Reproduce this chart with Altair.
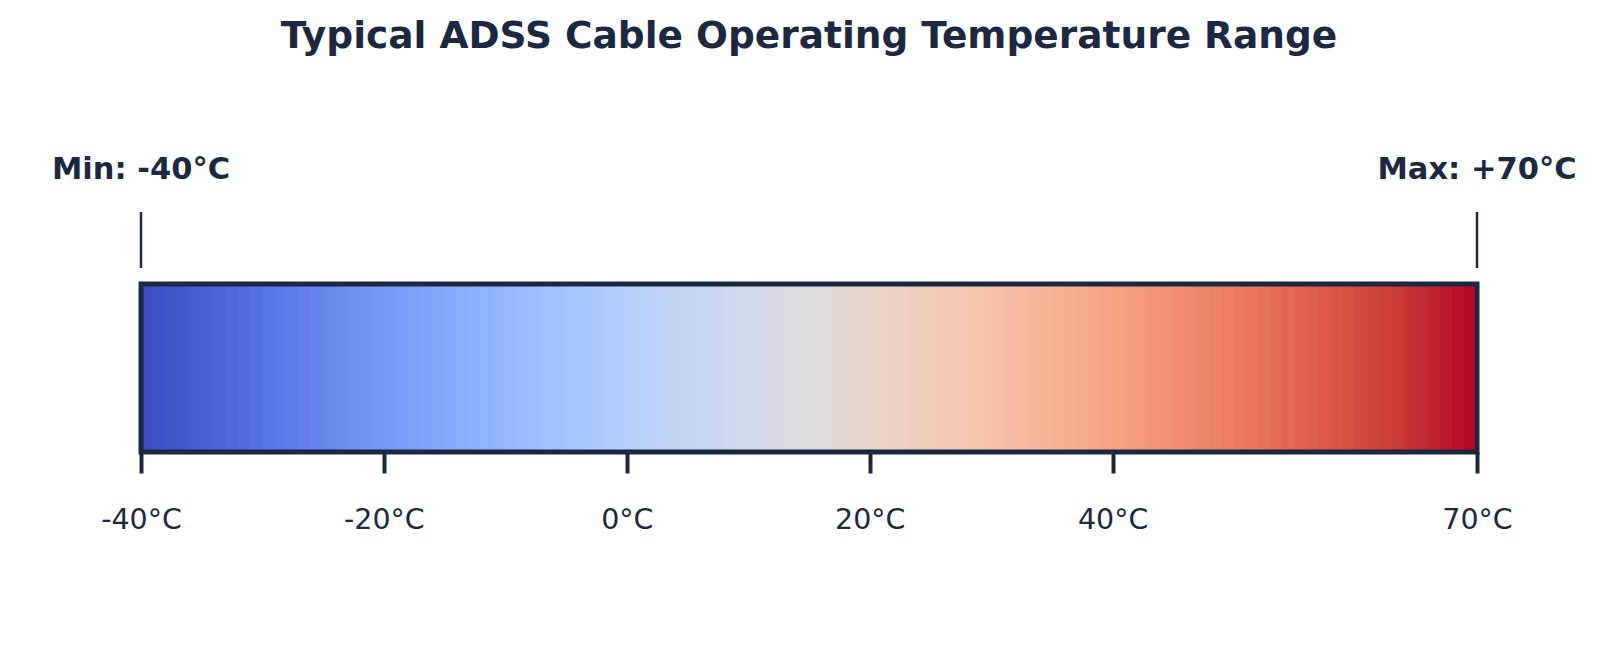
import altair as alt
import pandas as pd

# --- data ---
cell_starts = list(range(-40, 70))          # 1 °C cells across the operating range
tick_values = [-40, -20, 0, 20, 40, 70]
limits_temp = [-40, 70]
limits_text = ["Min: -40°C", "Max: +70°C"]
title_text = "Typical ADSS Cable Operating Temperature Range"

# coolwarm colour stops
stop_temps = [-40, -33.125, -26.25, -19.375, -12.5, -5.625, 1.25, 8.125, 15,
              21.875, 28.75, 35.625, 42.5, 49.375, 56.25, 63.125, 70]
stop_colors = ["#3b4cc0", "#4d68d7", "#6282ea", "#779af7", "#8db0fe", "#a3c2ff",
               "#b8d0f9", "#ccd9ee", "#dddddd", "#ecd3c5", "#f5c4ad", "#f7b194",
               "#f49a7b", "#ec7f63", "#de604d", "#cb3e38", "#b40426"]

INK = "#1c2841"
FONT = "DejaVu Sans"
W, H = 1336, 168

cells = pd.DataFrame({"t": cell_starts})
limits = pd.DataFrame({"t": limits_temp, "label": limits_text})
frame = pd.DataFrame({"a": [limits_temp[0]], "b": [limits_temp[1]]})
title_df = pd.DataFrame({"label": [title_text]})

xscale = alt.Scale(domain=[-40, 70], nice=False, zero=False)
xaxis = alt.Axis(values=tick_values, labelExpr="datum.value + '°C'", title=None,
                 grid=False, domain=False, tickSize=21, tickWidth=4, tickColor=INK,
                 labelFontSize=28.5, labelColor=INK, labelFont=FONT, labelPadding=32,
                 labelFlush=False, labelOverlap=False, labelBound=False)
cscale = alt.Scale(domain=stop_temps, range=stop_colors, interpolate="rgb")

grad = alt.Chart(cells).transform_calculate(
    t2="datum.t + 1", mid="datum.t + 0.5"
).mark_rect(strokeWidth=1).encode(
    x=alt.X("t:Q", scale=xscale, axis=xaxis),
    x2="t2:Q",
    y=alt.value(0), y2=alt.value(H),
    color=alt.Color("mid:Q", scale=cscale, legend=None),
    stroke=alt.Color("mid:Q", scale=cscale, legend=None),
)

border = alt.Chart(frame).mark_rect(fillOpacity=0, stroke=INK, strokeWidth=5).encode(
    x=alt.X("a:Q", scale=xscale), x2="b:Q",
    y=alt.value(0), y2=alt.value(H),
)

rules = alt.Chart(limits).mark_rule(color=INK, strokeWidth=2.5).encode(
    x=alt.X("t:Q", scale=xscale), y=alt.value(-72), y2=alt.value(-16),
)

labels = alt.Chart(limits).mark_text(font=FONT, fontSize=30.5, fontWeight="bold",
                                     color=INK, align="center", baseline="alphabetic").encode(
    x=alt.X("t:Q", scale=xscale), y=alt.value(-105), text="label:N",
)

title = alt.Chart(title_df).mark_text(font=FONT, fontSize=37.5, fontWeight="bold",
                                      color=INK, align="center", baseline="alphabetic").encode(
    x=alt.value(W / 2), y=alt.value(-236), text="label:N",
)

chart = alt.layer(grad, border, rules, labels, title).properties(
    width=W, height=H,
    autosize=alt.AutoSizeParams(type="none"),
    padding={"left": 133, "top": 276, "right": 133, "bottom": 180},
    background="white",
).configure_view(stroke=None).resolve_scale(color="shared")

chart.save("out.html", embed_options={"renderer": "svg", "actions": False})
